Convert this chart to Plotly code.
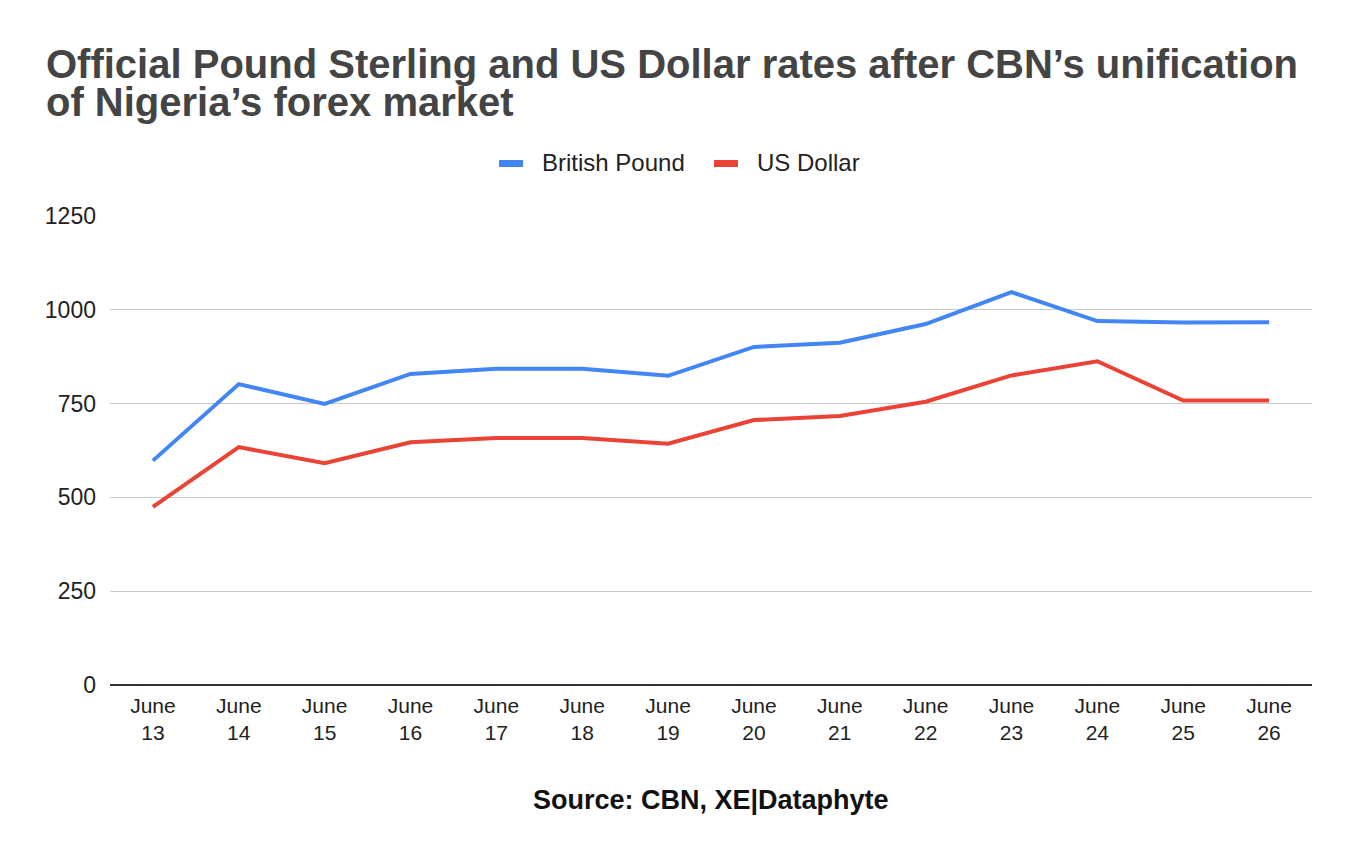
import plotly.graph_objects as go

categories = ["June<br>13", "June<br>14", "June<br>15", "June<br>16", "June<br>17", "June<br>18", "June<br>19",
              "June<br>20", "June<br>21", "June<br>22", "June<br>23", "June<br>24", "June<br>25", "June<br>26"]
british_pound = [598, 802, 749, 829, 843, 843, 824, 901, 912, 962, 1047, 970, 966, 967]
us_dollar = [475, 634, 591, 647, 658, 658, 643, 706, 717, 755, 825, 863, 758, 758]
y_ticks = [0, 250, 500, 750, 1000, 1250]

series_names = ["British Pound", "US Dollar"]
series_colors = ["#4285F4", "#EA4335"]

title_line1 = "Official Pound Sterling and US Dollar rates after CBN\u2019s unification"
title_line2 = "of Nigeria\u2019s forex market"
source_text = "Source: CBN, XE|Dataphyte"

FONT = "Liberation Sans, Arial, sans-serif"

fig = go.Figure()
for name, vals, col in zip(series_names, [british_pound, us_dollar], series_colors):
    fig.add_trace(go.Scatter(x=categories, y=vals, name=name, mode="lines",
                             line=dict(color=col, width=4), showlegend=False))

# page has an 8px body margin; reference coordinates are converted accordingly
OFF = 8
W, H = 1356 - 2 * OFF, 858 - 2 * OFF
plot_left, plot_right, plot_top, plot_bottom = 110, 1312, 216, 685  # reference pixels
L = plot_left - OFF
T = plot_top - OFF
pw = plot_right - plot_left
ph = plot_bottom - plot_top
R = W - L - pw
B = H - T - ph

def px(X):
    return (X - plot_left) / pw

def py(Y):
    return (plot_bottom - Y) / ph

annotations = [
    dict(text="<b>" + title_line1 + "</b>", xref="paper", yref="paper",
         x=px(44), y=py(64), xanchor="left", yanchor="middle", showarrow=False,
         font=dict(size=40, color="#444444", family=FONT)),
    dict(text="<b>" + title_line2 + "</b>", xref="paper", yref="paper",
         x=px(44), y=py(102), xanchor="left", yanchor="middle", showarrow=False,
         font=dict(size=40, color="#444444", family=FONT)),
    dict(text="<b>" + source_text + "</b>", xref="paper", yref="paper",
         x=0.5, y=py(800), xanchor="center", yanchor="middle", showarrow=False,
         font=dict(size=27, color="#111111", family=FONT)),
]
shapes = []
legend_sym_x = [499, 714]
legend_txt_x = [540, 755]
for name, col, sx, tx in zip(series_names, series_colors, legend_sym_x, legend_txt_x):
    shapes.append(dict(type="rect", xref="paper", yref="paper",
                       x0=px(sx), x1=px(sx + 24), y0=py(167), y1=py(160),
                       fillcolor=col, line=dict(width=0)))
    annotations.append(dict(text=name, xref="paper", yref="paper", x=px(tx), y=py(163),
                            xanchor="left", yanchor="middle", showarrow=False,
                            font=dict(size=24, color="#222222", family=FONT)))

fig.update_layout(
    width=W, height=H,
    margin=dict(l=L, r=R, t=T, b=B),
    paper_bgcolor="white", plot_bgcolor="white",
    font=dict(family=FONT, color="#222222", size=21),
    showlegend=False,
    xaxis=dict(type="category", showgrid=False, showline=False, zeroline=False,
               tickfont=dict(size=21, color="#222222"), ticklabelstandoff=6,
               range=[-0.5, len(categories) - 0.5]),
    yaxis=dict(range=[0, 1250], tickvals=y_ticks, showgrid=True, gridcolor="#c8c8c8", gridwidth=1,
               zeroline=True, zerolinecolor="#333333", zerolinewidth=2, showline=False,
               tickfont=dict(size=23, color="#222222"), ticklabelstandoff=13),
    annotations=annotations,
    shapes=shapes,
)

fig.write_html("out.html")
